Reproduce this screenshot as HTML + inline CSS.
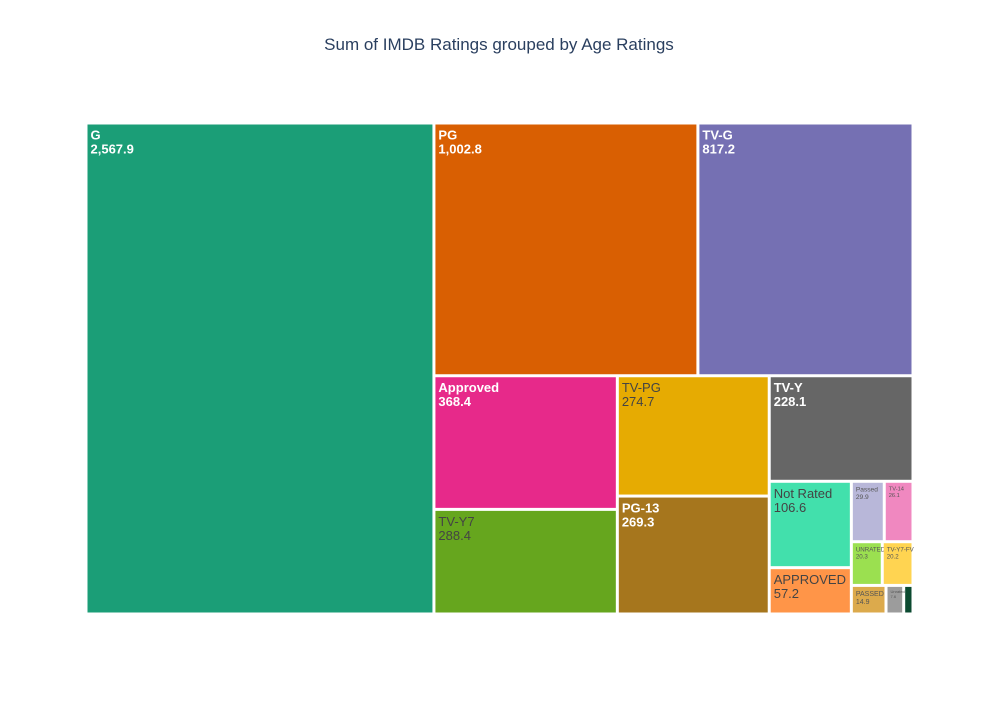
<!DOCTYPE html>
<html><head><meta charset="utf-8"><style>
body{margin:0;background:#fff;font-family:"Liberation Sans",sans-serif;overflow:hidden}
svg text{font-family:"Liberation Sans",sans-serif}
</style></head><body>
<svg id="chart" width="999" height="700">
<rect width="999" height="700" fill="#fff"/>
<text x="499" y="50" text-anchor="middle" font-size="17" fill="#2a3f5f">Sum of IMDB Ratings grouped by Age Ratings</text>
<g id="cells"></g>
</svg>
<script>
const labels = ["G","PG","TV-G","Approved","TV-Y7","TV-PG","PG-13","TV-Y","Not Rated","APPROVED","Passed","TV-14","UNRATED","TV-Y7-FV","PASSED","Unrated","TV-MA"];
const values = [2567.9,1002.8,817.2,368.4,288.4,274.7,269.3,228.1,106.6,57.2,29.9,26.1,20.3,20.2,14.9,7.6,4];
const colors = ["#1b9e77","#d95f02","#7570b3","#e7298a","#66a61e","#e6ab02","#a6761d","#666666","#42e0ac","#ff9548","#b8b7d9","#f088c0","#9be050","#ffd451","#dcaa4c","#9c9c9c","#0c4a30"];
const darkText = [false,false,false,false,true,true,false,false,true,true,true,true,true,true,true,true,false];
const tailRows = [2,2,3];

const X0=86,Y0=123,X1=913,Y1=614,RATIO=1;
function squarify(vals,x0,y0,x1,y1,stopAt){
  const out=[];let value=vals.reduce((a,b)=>a+b,0);let i0=0,i1=0;const n=vals.length;
  while(i0<n){
    if(i0>=stopAt){
      let idx=i0;const dy=y1-y0;const total=value;
      for(const cnt of tailRows){
        const end=Math.min(n,idx+cnt);let s=0;for(let i=idx;i<end;i++)s+=vals[i];
        const h=dy*s/total;let cx=x0;
        for(let i=idx;i<end;i++){const w=(x1-x0)*vals[i]/s;out[i]=[cx,y0,cx+w,y0+h];cx+=w;}
        y0+=h;idx=end;
      }
      break;
    }
    const dx=x1-x0,dy=y1-y0;let sum=vals[i1++];let mn=sum,mx=sum;
    const alpha=Math.max(dy/dx,dx/dy)/(value*RATIO);let beta=sum*sum*alpha;
    let minR=Math.max(mx/beta,beta/mn);
    for(;i1<n;++i1){const v=vals[i1];sum+=v;if(v<mn)mn=v;if(v>mx)mx=v;beta=sum*sum*alpha;
      const nr=Math.max(mx/beta,beta/mn);if(nr>minR){sum-=v;break;}minR=nr;}
    const dice=dx<dy;
    if(dice){const h=dy*sum/value;let cx=x0;for(let i=i0;i<i1;i++){const w=dx*vals[i]/sum;out[i]=[cx,y0,cx+w,y0+h];cx+=w;}y0+=h;}
    else{const w=dx*sum/value;let cy=y0;for(let i=i0;i<i1;i++){const h=dy*vals[i]/sum;out[i]=[x0,cy,x0+w,cy+h];cy+=h;}x0+=w;}
    value-=sum;i0=i1;
  }
  return out;
}
const rects=squarify(values,X0,Y0,X1,Y1,10);
const g=document.getElementById('cells');const NS="http://www.w3.org/2000/svg";
rects.forEach((r,i)=>{
  const x=r[0]+1.5,y=r[1]+1.5,w=Math.max(0,r[2]-r[0]-3),h=Math.max(0,r[3]-r[1]-3);
  const rc=document.createElementNS(NS,'rect');
  rc.setAttribute('x',x);rc.setAttribute('y',y);rc.setAttribute('width',w);rc.setAttribute('height',h);
  rc.setAttribute('fill',colors[i]);
  
  
  g.appendChild(rc);
  let fs=13;if(w<60)fs=Math.max(4,Math.min(8,w/4.5));
  if(w<12)return;
  const col=darkText[i]?"#444":"#fff";const wt=darkText[i]?"normal":"bold";
  const big=w>=60;
  [labels[i],values[i].toLocaleString('en-US',{minimumFractionDigits:1,maximumFractionDigits:1})].forEach((s,k)=>{
    const t=document.createElementNS(NS,'text');
    t.setAttribute('x',x+3);t.setAttribute('y',y+fs+2+k*(fs+1));
    t.setAttribute('font-size',fs);t.setAttribute('fill',big?col:'#555');
    t.setAttribute('font-weight',big?wt:'normal');
    t.textContent=s;
    
    
    g.appendChild(t);
  });
});
</script>
</body></html>
